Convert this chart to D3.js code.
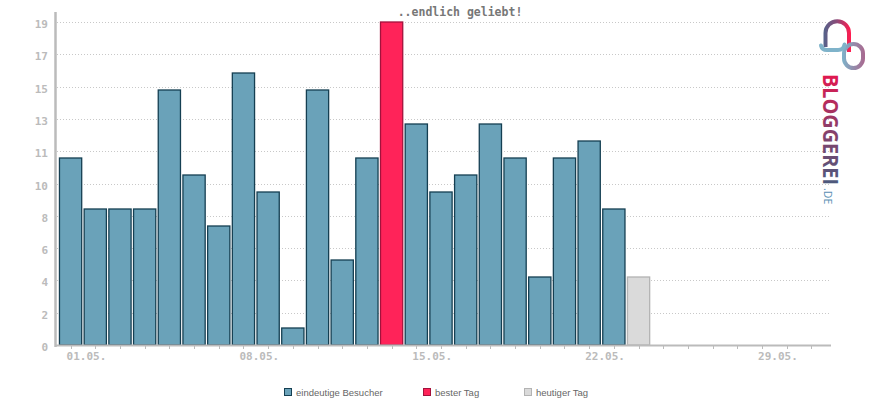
<!DOCTYPE html>
<html>
<head>
<meta charset="utf-8">
<script src="https://cdn.jsdelivr.net/npm/d3@7"></script>
<style>
  body { margin: 0; background: #fff; }
  svg { display: block; }
</style>
</head>
<body>
<script>
// daily unique visitors, May
var days = d3.range(1, 32);
var visitors = [11, 8, 8, 8, 15, 10, 7, 16, 9, 1, 15, 5, 11, 19, 13, 9, 10, 13, 11, 4, 11, 12, 8];
var bestDay = 14;
var today = 24,
    todayValue = 4;
var dateLabels = [1, 8, 15, 22, 29];
var yMax = 19;
var legendItems = ["eindeutige Besucher", "bester Tag", "heutiger Tag"];

var width = 870,
    height = 400;

var svg = d3.select("body").append("svg")
    .attr("width", width)
    .attr("height", height);

var x = d3.scaleBand()
    .domain(days)
    .range([57, 825])
    .paddingInner(0.1)
    .paddingOuter(0.1);

var y = d3.scaleLinear()
    .domain([0, yMax])
    .range([345, 22]);

var yTicks = d3.range(0, 11).map(function(i) { return yMax * i / 10; });

var mono = "'DejaVu Sans Mono', monospace";

// grid
svg.append("g").selectAll("line")
    .data(yTicks.filter(function(d) { return d > 0; }))
    .enter().append("line")
    .attr("x1", 57).attr("x2", 830)
    .attr("y1", function(d) { return Math.round(y(d)) + 0.5; })
    .attr("y2", function(d) { return Math.round(y(d)) + 0.5; })
    .attr("stroke", "#c8c8c8")
    .attr("stroke-dasharray", "1,2");

// title
svg.append("text")
    .attr("x", 460).attr("y", 16)
    .attr("text-anchor", "middle")
    .attr("font-family", mono)
    .attr("font-weight", "bold")
    .attr("font-size", 11.5)
    .attr("fill", "#777")
    .text("..endlich geliebt!");

// bars
var rows = visitors.map(function(v, i) {
    return { day: i + 1, value: v, kind: (i + 1) === bestDay ? "best" : "normal" };
});
rows.push({ day: today, value: todayValue, kind: "today" });

var fills = { normal: "#6aa2b9", best: "#ff2359", today: "#dadada" };
var strokes = { normal: "#153f52", best: "#a3123c", today: "#b3b3b3" };

svg.append("g").selectAll("rect")
    .data(rows)
    .enter().append("rect")
    .attr("x", function(d) { return x(d.day); })
    .attr("y", function(d) { return y(d.value); })
    .attr("width", x.bandwidth())
    .attr("height", function(d) { return y(0) - y(d.value); })
    .attr("fill", function(d) { return fills[d.kind]; })
    .attr("stroke", function(d) { return strokes[d.kind]; })
    .attr("stroke-width", 1.3);

// axes
var axisColor = "#bbb";
svg.append("line")
    .attr("x1", 55.5).attr("x2", 55.5)
    .attr("y1", 12).attr("y2", 347)
    .attr("stroke", axisColor).attr("stroke-width", 2.5);
svg.append("line")
    .attr("x1", 55).attr("x2", 831)
    .attr("y1", 345.5).attr("y2", 345.5)
    .attr("stroke", axisColor).attr("stroke-width", 2);

svg.append("g").selectAll("line")
    .data(days)
    .enter().append("line")
    .attr("x1", function(d) { return Math.round(x(d) + x.bandwidth() / 2) + 0.5; })
    .attr("x2", function(d) { return Math.round(x(d) + x.bandwidth() / 2) + 0.5; })
    .attr("y1", 345).attr("y2", 349)
    .attr("stroke", axisColor);

svg.append("g").selectAll("text")
    .data(yTicks)
    .enter().append("text")
    .attr("x", 48)
    .attr("y", function(d) { return y(d) + 6; })
    .attr("text-anchor", "end")
    .attr("font-family", mono)
    .attr("font-weight", "bold")
    .attr("font-size", 11)
    .attr("fill", axisColor)
    .text(function(d) { return Math.round(d); });

svg.append("g").selectAll("text")
    .data(dateLabels)
    .enter().append("text")
    .attr("x", function(d) { return x(d) + x.bandwidth() / 2 - 4; })
    .attr("y", 360)
    .attr("font-family", mono)
    .attr("font-weight", "bold")
    .attr("font-size", 11)
    .attr("fill", axisColor)
    .text(function(d) { return d3.format("02")(d) + ".05."; });

// legend
var legendX = [284, 423, 524];
var legendKinds = ["normal", "best", "today"];
var lg = svg.append("g").selectAll("g")
    .data(legendItems)
    .enter().append("g")
    .attr("transform", function(d, i) { return "translate(" + legendX[i] + ",388)"; });
lg.append("rect")
    .attr("x", 0.5).attr("y", 0.5)
    .attr("width", 7).attr("height", 7)
    .attr("fill", function(d, i) { return fills[legendKinds[i]]; })
    .attr("stroke", function(d, i) { return strokes[legendKinds[i]]; });
lg.append("text")
    .attr("x", 12).attr("y", 7.5)
    .attr("font-family", "'Liberation Sans', Arial, sans-serif")
    .attr("font-size", 9.5)
    .attr("fill", "#666")
    .text(function(d) { return d; });

// logo
var defs = svg.append("defs");
var g1 = defs.append("linearGradient").attr("id", "logoText")
    .attr("gradientUnits", "userSpaceOnUse")
    .attr("x1", 0).attr("x2", 111).attr("y1", 0).attr("y2", 0);
g1.append("stop").attr("offset", 0).attr("stop-color", "#e3174e");
g1.append("stop").attr("offset", 0.5).attr("stop-color", "#8a3f6a");
g1.append("stop").attr("offset", 1).attr("stop-color", "#4b5a7d");

var g2 = defs.append("linearGradient").attr("id", "arch")
    .attr("gradientUnits", "userSpaceOnUse")
    .attr("x1", 824).attr("x2", 850).attr("y1", 0).attr("y2", 0);
g2.append("stop").attr("offset", 0).attr("stop-color", "#55628a");
g2.append("stop").attr("offset", 0.5).attr("stop-color", "#8c4a78");
g2.append("stop").attr("offset", 1).attr("stop-color", "#ff1c50");

var g3 = defs.append("linearGradient").attr("id", "ring")
    .attr("gradientUnits", "userSpaceOnUse")
    .attr("x1", 843).attr("x2", 864).attr("y1", 0).attr("y2", 0);
g3.append("stop").attr("offset", 0).attr("stop-color", "#7fb0c8");
g3.append("stop").attr("offset", 1).attr("stop-color", "#a86a90");

var logo = svg.append("g");
logo.append("path")
    .attr("d", "M825.5,47 L825.5,33 A11.75,11.75 0 0 1 849,33 L849,52")
    .attr("fill", "none").attr("stroke", "url(#arch)").attr("stroke-width", 4);
logo.append("rect")
    .attr("x", 844).attr("y", 44).attr("width", 19).attr("height", 24).attr("rx", 9.5)
    .attr("fill", "none").attr("stroke", "url(#ring)").attr("stroke-width", 4);
logo.append("path")
    .attr("d", "M821,45.5 Q822,50 827,50 L838,50 Q843.5,50 844.5,44.5")
    .attr("fill", "none").attr("stroke", "#7fb3ca").attr("stroke-width", 4)
    .attr("stroke-linecap", "round");

logo.append("text")
    .attr("transform", "translate(823,74) rotate(90)")
    .attr("font-family", "'Open Sans', sans-serif")
    .attr("font-weight", "bold")
    .attr("font-size", 22)
    .attr("textLength", 111)
    .attr("lengthAdjust", "spacingAndGlyphs")
    .attr("fill", "url(#logoText)")
    .text("BLOGGEREI");
logo.append("text")
    .attr("transform", "translate(824,188) rotate(90)")
    .attr("font-family", "'Open Sans', sans-serif")
    .attr("font-size", 10.5)
    .attr("fill", "#5b8fb4")
    .text(".DE");
</script>
</body>
</html>
